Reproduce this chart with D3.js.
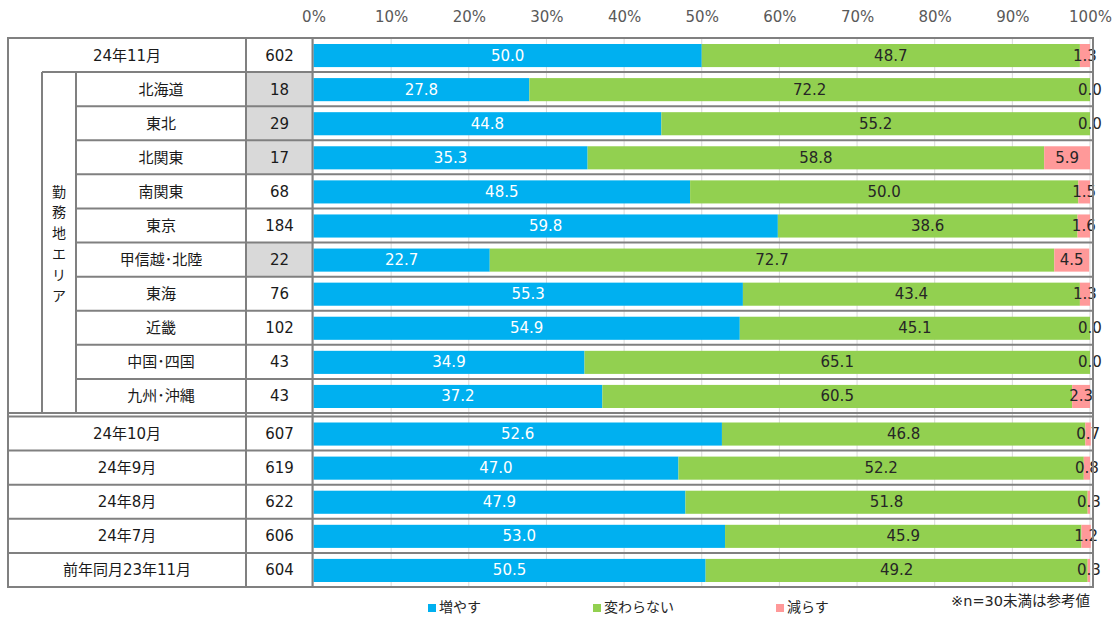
<!DOCTYPE html>
<html>
<head>
<meta charset="utf-8">
<script src="https://cdn.jsdelivr.net/npm/d3@7"></script>
<style>
  body { margin: 0; background: #fff; }
  text { font-family: "DejaVu Sans", "Noto Sans CJK JP", sans-serif; }
</style>
</head>
<body>
<script>
// data
const areaRows = ["24年11月", "北海道", "東北", "北関東", "南関東", "東京", "甲信越･北陸", "東海", "近畿", "中国･四国", "九州･沖縄"];
const pastRows = ["24年10月", "24年9月", "24年8月", "24年7月", "前年同月23年11月"];
const labels = areaRows.concat(pastRows);
const nValues = [602, 18, 29, 17, 68, 184, 22, 76, 102, 43, 43, 607, 619, 622, 606, 604];
const increase = [50.0, 27.8, 44.8, 35.3, 48.5, 59.8, 22.7, 55.3, 54.9, 34.9, 37.2, 52.6, 47.0, 47.9, 53.0, 50.5];
const same = [48.7, 72.2, 55.2, 58.8, 50.0, 38.6, 72.7, 43.4, 45.1, 65.1, 60.5, 46.8, 52.2, 51.8, 45.9, 49.2];
const decrease = [1.3, 0.0, 0.0, 5.9, 1.5, 1.6, 4.5, 1.3, 0.0, 0.0, 2.3, 0.7, 0.8, 0.3, 1.2, 0.3];
const seriesNames = ["増やす", "変わらない", "減らす"];
const colors = ["#00B0F0", "#92D050", "#FF9999"];
const xTicks = [0, 10, 20, 30, 40, 50, 60, 70, 80, 90, 100];

const width = 1119, height = 621;
const leftX = 8, rightX = 1093;
const topY = 38, bottomY = 587;
const splitY = 413, splitY2 = 416.5;
const lineColor = "#808080";
const fs = "15px";

const svg = d3.select("body").append("svg")
  .attr("width", width)
  .attr("height", height);

// scales
const x = d3.scaleLinear().domain([0, 100]).range([313.5, 1090]);
const yTop = d3.scaleBand().domain(areaRows).range([topY, splitY]);
const yBot = d3.scaleBand().domain(pastRows).range([splitY2, bottomY]);
const y = d => areaRows.includes(d) ? yTop(d) : yBot(d);
const rowH = yTop.bandwidth();

const data = labels.map((d, i) => ({
  label: d, n: nValues[i], vals: [increase[i], same[i], decrease[i]], i: i
}));

// gray cells for n < 30
data.filter(d => d.n < 30).forEach(d => {
  svg.append("rect")
    .attr("x", 246).attr("y", y(d.label))
    .attr("width", 313 - 246).attr("height", rowH)
    .attr("fill", "#D9D9D9");
});

// gridlines
svg.append("g").selectAll("line")
  .data(xTicks)
  .enter().append("line")
  .attr("x1", d => x(d)).attr("x2", d => x(d))
  .attr("y1", topY).attr("y2", bottomY)
  .attr("stroke", "#D9D9D9").attr("stroke-width", 1);

// top axis labels
const axis = d3.axisTop(x).tickValues(xTicks).tickFormat(d => d + "%").tickSize(0);
const ax = svg.append("g").attr("transform", "translate(0,11)").call(axis);
ax.select(".domain").remove();
ax.selectAll("text")
  .attr("fill", "#595959")
  .style("font-size", fs)
  .style("font-family", "DejaVu Sans")
  .attr("dy", "0.9em");

// bars
const barPad = 6;
data.forEach(d => {
  let acc = 0;
  d.vals.forEach((v, k) => {
    const x0 = acc;
    acc += v;
    svg.append("rect")
      .attr("x", x(x0))
      .attr("y", y(d.label) + barPad)
      .attr("width", x(acc) - x(x0))
      .attr("height", rowH - barPad * 2 + 1)
      .attr("fill", colors[k]);
    svg.append("text")
      .attr("x", (x(x0) + x(acc)) / 2)
      .attr("y", y(d.label) + rowH / 2 + 1)
      .attr("text-anchor", "middle")
      .attr("dominant-baseline", "middle")
      .attr("fill", k === 0 ? "#fff" : "#262626")
      .style("font-size", fs)
      .text(v.toFixed(1));
  });
});

// table text
data.forEach(d => {
  const isSub = d.i > 0 && d.i < areaRows.length;
  svg.append("text")
    .attr("x", isSub ? (76 + 246) / 2 : (leftX + 246) / 2)
    .attr("y", y(d.label) + rowH / 2 + 1)
    .attr("text-anchor", "middle")
    .attr("dominant-baseline", "middle")
    .attr("fill", "#1a1a1a")
    .style("font-size", fs)
    .text(d.label);
  svg.append("text")
    .attr("x", (246 + 313) / 2)
    .attr("y", y(d.label) + rowH / 2 + 1)
    .attr("text-anchor", "middle")
    .attr("dominant-baseline", "middle")
    .attr("fill", "#1a1a1a")
    .style("font-size", fs)
    .text(d.n);
});

// vertical group label
const vLabel = "勤務地エリア".split("");
const midY = (yTop(areaRows[1]) + splitY) / 2 + 2;
vLabel.forEach((c, k) => {
  svg.append("text")
    .attr("x", 59)
    .attr("y", midY + (k - (vLabel.length - 1) / 2) * 20.8)
    .attr("text-anchor", "middle")
    .attr("dominant-baseline", "middle")
    .attr("fill", "#1a1a1a")
    .style("font-size", "14px")
    .text(c);
});

// table lines
const lines = svg.append("g")
  .attr("stroke", lineColor)
  .attr("stroke-width", 2)
  .attr("fill", "none");
function hline(x1, x2, yy) {
  lines.append("line").attr("x1", x1).attr("x2", x2).attr("y1", yy).attr("y2", yy);
}
function vline(xx, y1, y2) {
  lines.append("line").attr("x1", xx).attr("x2", xx).attr("y1", y1).attr("y2", y2);
}
hline(leftX - 1, rightX + 1, topY);
hline(leftX - 1, rightX + 1, bottomY);
vline(leftX, topY, bottomY);
vline(rightX, topY, bottomY);
vline(246, topY, bottomY);
vline(312.5, topY, bottomY);
hline(42, rightX, yTop(areaRows[1]));
vline(42, yTop(areaRows[1]), splitY);
vline(76, yTop(areaRows[1]), splitY);
areaRows.slice(2).forEach(r => hline(76, rightX, yTop(r)));
hline(leftX, rightX, splitY);
hline(leftX, rightX, splitY2);
pastRows.slice(1).forEach(r => hline(leftX, rightX, yBot(r)));

// legend
const legX = [428, 593, 776];
seriesNames.forEach((s, k) => {
  svg.append("rect")
    .attr("x", legX[k]).attr("y", 604)
    .attr("width", 8).attr("height", 8)
    .attr("fill", colors[k]);
  svg.append("text")
    .attr("x", legX[k] + 11).attr("y", 608)
    .attr("dominant-baseline", "middle")
    .attr("fill", "#262626")
    .style("font-size", "14px")
    .text(s);
});
svg.append("text")
  .attr("x", 1090).attr("y", 602)
  .attr("text-anchor", "end")
  .attr("dominant-baseline", "middle")
  .attr("fill", "#262626")
  .style("font-size", "14.5px")
  .text("※n=30未満は参考値");
</script>
</body>
</html>
